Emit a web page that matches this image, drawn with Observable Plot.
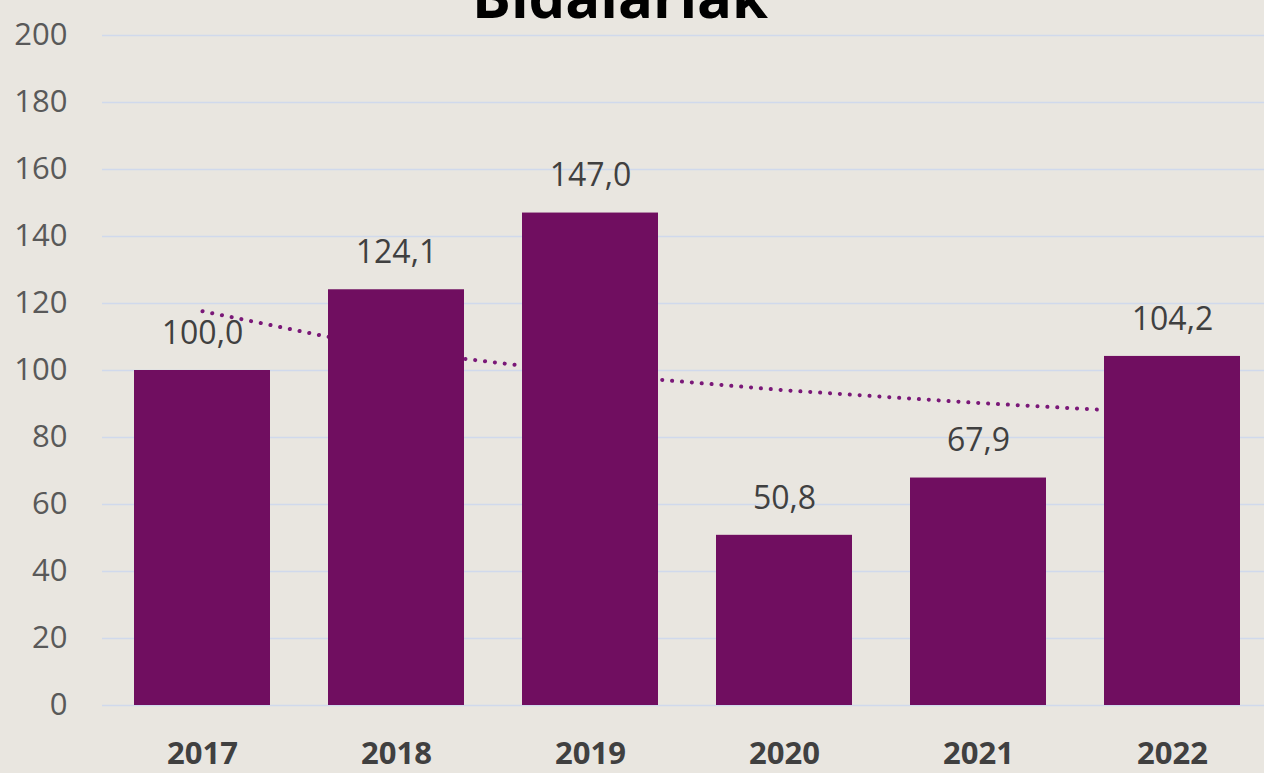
<!DOCTYPE html>
<html>
<head>
<meta charset="utf-8">
<script src="https://cdn.jsdelivr.net/npm/d3@7"></script>
<script src="https://cdn.jsdelivr.net/npm/@observablehq/plot@0.6"></script>
<style>
  html, body { margin: 0; padding: 0; background: #e9e6e0; overflow: hidden; }
  #wrap { position: relative; width: 1264px; height: 773px; }
  #title { position: absolute; left: 0; width: 1240px; top: -44px; text-align: center;
           font-family: "Open Sans", sans-serif; font-weight: 700; font-size: 58px; color: #000; }
</style>
</head>
<body>
<div id="wrap">
  <div id="chart"></div>
  <div id="title">Bidaiariak</div>
</div>
<script>
const years = ["2017", "2018", "2019", "2020", "2021", "2022"];
const values = [100.0, 124.1, 147.0, 50.8, 67.9, 104.2];
const trend = [117.7, 105.9, 99.0, 94.1, 90.3, 87.1];
const yTicks = [0, 20, 40, 60, 80, 100, 120, 140, 160, 180, 200];

const data = years.map((y, i) => ({year: y, value: values[i], trend: trend[i]}));
const fmt = v => v.toFixed(1).replace(".", ",");

const chart = Plot.plot({
  width: 1264,
  height: 773,
  marginTop: 35,
  marginBottom: 68,
  marginLeft: 102,
  marginRight: 0,
  style: {background: "transparent", fontFamily: "'Open Sans', sans-serif"},
  x: {domain: years, range: [102, 1271], paddingInner: 0.3, paddingOuter: 0.15, label: null},
  y: {domain: [0, 200], label: null, ticks: yTicks},
  marks: [
    Plot.ruleY(yTicks, {stroke: "#d0d9ec", strokeWidth: 1.5}),
    Plot.line(data, {x: "year", y: "trend", stroke: "#7a1878", strokeWidth: 4,
                     strokeDasharray: "0.1 9.8", strokeLinecap: "round"}),
    Plot.barY(data, {x: "year", y: "value", fill: "#700e60"}),
    Plot.text(data, {x: "year", y: "value", text: d => fmt(d.value), dy: -37,
                     fontSize: 32, fill: "#404040"}),
    Plot.axisY({ticks: yTicks, tickSize: 0, tickPadding: 35, fontSize: 31, fill: "#595959", label: null}),
    Plot.axisX({tickSize: 0, tickPadding: 36, fontSize: 31, fontWeight: "bold", fill: "#404040", label: null})
  ]
});
document.getElementById("chart").appendChild(chart);
</script>
</body>
</html>
